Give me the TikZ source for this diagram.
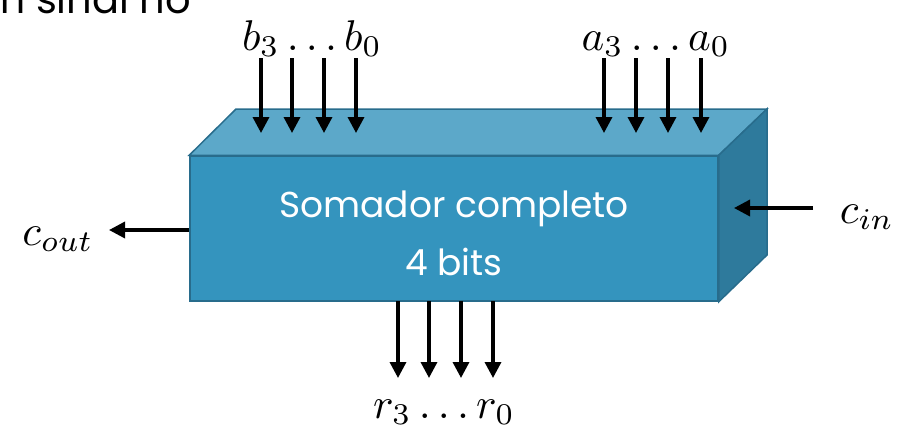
\documentclass[tikz,border=0pt]{standalone}
\usepackage{fontspec}
\setsansfont{Poppins}
\usetikzlibrary{arrows.meta}
\definecolor{frontc}{RGB}{52,148,190}
\definecolor{topc}{RGB}{92,168,201}
\definecolor{sidec}{RGB}{46,122,156}
\definecolor{edgec}{RGB}{40,108,140}
\newcommand{\biglbl}[1]{\scalebox{4.3}{$#1$}}
\tikzset{
  face/.style={draw=edgec, line width=1.5pt, line join=miter},
  sig/.style={line width=3.4pt, -{Triangle[length=16pt,width=16pt]}},
  lbl/.style={inner sep=0pt, anchor=base},
  boxtxt/.style={font=\sffamily\fontsize{36}{42}\selectfont, text=white, anchor=base, inner sep=0pt}
}
\begin{document}
\begin{tikzpicture}[x=1pt,y=-1pt]
\useasboundingbox (0,0) rectangle (906,429);
\clip (0,0) rectangle (906,429);
% top-left cut-off text
\node[anchor=base west, inner sep=0pt, font=\sffamily\fontsize{40}{46}\selectfont] (topt) at (-16,13) {m sinal no};
% box faces
\node[face, fill=frontc, minimum width=528pt, minimum height=145pt, inner sep=0pt] (box) at (454,228.5) {};
\coordinate (btl) at (236,109);
\coordinate (btr) at (767,109);
\coordinate (bbr) at (767,255);
\draw[face, fill=topc] (box.north west) -- (btl) -- (btr) -- (box.north east) -- cycle;
\draw[face, fill=sidec] (box.north east) -- (btr) -- (bbr) -- (box.south east) -- cycle;
\node[boxtxt] (t1) at (454,217) {Somador completo};
\node[boxtxt] (t2) at (454,275) {4 bits};
% b inputs
\foreach \i/\x in {3/261,2/292,1/324,0/356}{
  \coordinate (bs\i) at (\x,58);
  \coordinate (be\i) at (\x,133);
  \draw[sig] (bs\i) -- (be\i);
}
\foreach \i/\x in {3/604,2/636,1/668,0/701}{
  \coordinate (as\i) at (\x,58);
  \coordinate (ae\i) at (\x,133);
  \draw[sig] (as\i) -- (ae\i);
}
\foreach \i/\x in {3/398,2/429,1/461,0/493}{
  \coordinate (rs\i) at (\x,301);
  \coordinate (re\i) at (\x,378);
  \draw[sig] (rs\i) -- (re\i);
}
\coordinate (coutend) at (109,230);
\draw[sig] (box.west |- coutend) -- (coutend);
\coordinate (cinstart) at (813,208);
\coordinate (cinend) at (734,208);
\draw[sig] (cinstart) -- (cinend);
% labels
\node[lbl] (lb) at (312,50) {\biglbl{b_3 \ldots b_0}};
\node[lbl] (la) at (656,50) {\biglbl{a_3 \ldots a_0}};
\node[lbl] (lr) at (444,418) {\biglbl{r_3 \ldots r_0}};
\node[lbl] (lco) at (58,245) {\biglbl{c_{out}}};
\node[lbl] (lci) at (867,223) {\biglbl{c_{in}}};
\end{tikzpicture}
\end{document}
